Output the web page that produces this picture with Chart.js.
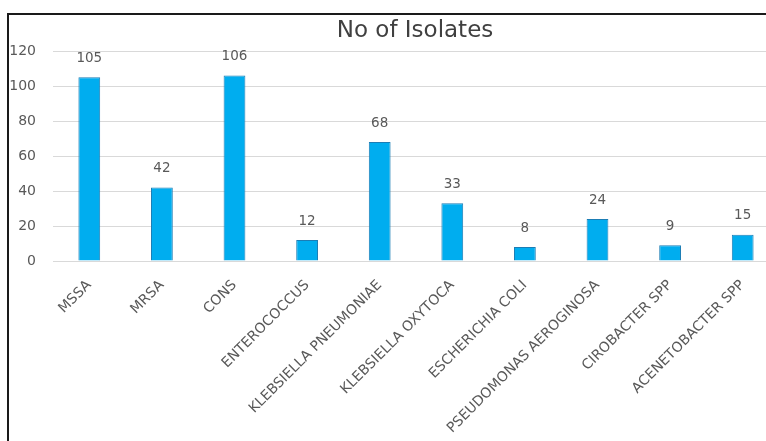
<!DOCTYPE html>
<html>
<head>
<meta charset="utf-8">
<script src="https://cdn.jsdelivr.net/npm/chart.js@4.4.1/dist/chart.umd.min.js"></script>
<style>
  html, body { margin: 0; padding: 0; background: #fff; overflow: hidden; width: 766px; height: 441px; }
  #frame {
    position: absolute; left: 7px; top: 13px;
    width: 759px; height: 428px; overflow: hidden;
    border-top: 2px solid #1a1a1a; border-left: 2px solid #1a1a1a;
  }
  #wrap { position: absolute; left: 0; top: 0; width: 816px; height: 426px; }
</style>
</head>
<body>
<div id="frame"><div id="wrap"><canvas id="chart-isolates"></canvas></div></div>
<script>
// ── Data ─────────────────────────────────────────────
const organisms = [
  'MSSA', 'MRSA', 'CONS', 'ENTEROCOCCUS', 'KLEBSIELLA PNEUMONIAE',
  'KLEBSIELLA OXYTOCA', 'ESCHERICHIA COLI', 'PSEUDOMONAS AEROGINOSA',
  'CIROBACTER SPP', 'ACENETOBACTER SPP'
];
const isolates = [105, 42, 106, 12, 68, 33, 8, 24, 9, 15];
const yTicks = [0, 20, 40, 60, 80, 100, 120];
const chartTitle = 'No of Isolates';

const FONT = '"DejaVu Sans", Verdana, sans-serif';

// ── Title (centred on the whole frame, not the plot) ─
const frameTitle = {
  id: 'frameTitle',
  afterDraw(chart) {
    const { ctx } = chart;
    ctx.save();
    ctx.font = '23px ' + FONT;
    ctx.fillStyle = '#404040';
    ctx.textAlign = 'center';
    ctx.textBaseline = 'middle';
    ctx.fillText(chartTitle, chart.width / 2 - 2, 16);
    ctx.restore();
  }
};

// ── Value labels above bars ──────────────────────────
const barValues = {
  id: 'barValues',
  afterDatasetsDraw(chart) {
    const { ctx } = chart;
    const meta = chart.getDatasetMeta(0);
    ctx.save();
    ctx.font = '13.5px ' + FONT;
    ctx.fillStyle = '#595959';
    ctx.textAlign = 'center';
    ctx.textBaseline = 'middle';
    meta.data.forEach((bar, i) => {
      ctx.fillText(isolates[i], bar.x, bar.y - 19);
    });
    ctx.restore();
  }
};

// ── Chart ────────────────────────────────────────────
new Chart(document.getElementById('chart-isolates'), {
  type: 'bar',
  data: {
    labels: organisms,
    datasets: [{
      data: isolates,
      backgroundColor: '#00adef',
      borderColor: '#1b7db5',
      borderWidth: 1,
      barPercentage: 0.6,
      categoryPercentage: 0.5
    }]
  },
  options: {
    responsive: true,
    maintainAspectRatio: false,
    animation: false,
    layout: { padding: { left: 0, right: 46, top: 36, bottom: 0 } },
    plugins: {
      legend: { display: false },
      tooltip: { enabled: false },
      title: { display: false }
    },
    scales: {
      x: {
        grid: { display: false },
        border: { color: '#d9d9d9', width: 1 },
        ticks: {
          color: '#595959',
          font: { size: 14, family: FONT },
          maxRotation: 45,
          minRotation: 45,
          autoSkip: false,
          padding: 8
        },
        afterFit(scale) { scale.height = 180; }
      },
      y: {
        min: 0,
        max: 120,
        afterBuildTicks(scale) { scale.ticks = yTicks.map(v => ({ value: v })); },
        grid: { color: '#d9d9d9', drawTicks: false },
        border: { display: false },
        ticks: {
          color: '#595959',
          font: { size: 14, family: FONT },
          padding: 17
        },
        afterFit(scale) { scale.width = 44; }
      }
    }
  },
  plugins: [barValues, frameTitle]
});
</script>
</body>
</html>
